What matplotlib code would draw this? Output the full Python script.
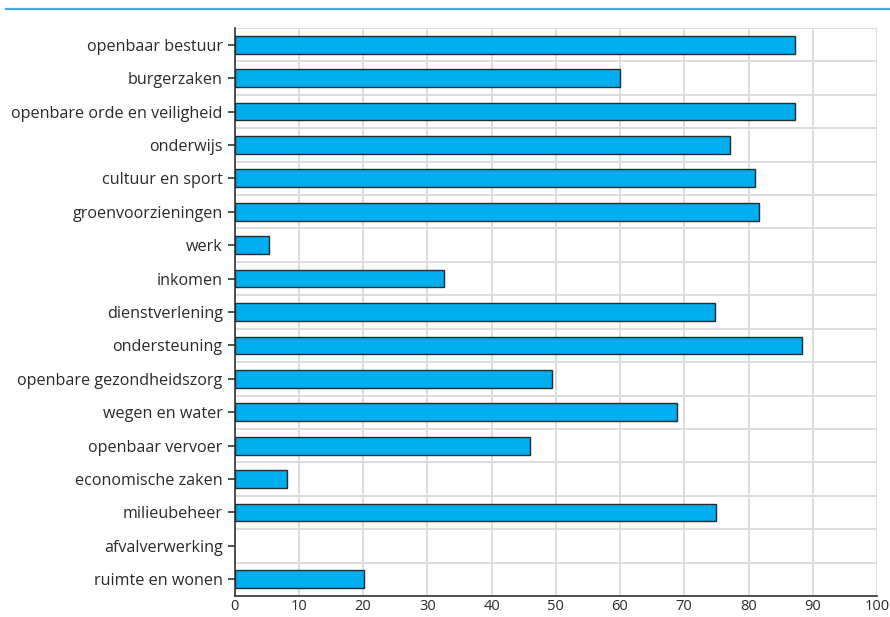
import numpy as np
import matplotlib.pyplot as plt
from matplotlib.lines import Line2D

# taken - aandeel per taakveld (%)
taken = ['openbaar bestuur', 'burgerzaken', 'openbare orde en veiligheid',
         'onderwijs', 'cultuur en sport', 'groenvoorzieningen', 'werk',
         'inkomen', 'dienstverlening', 'ondersteuning',
         'openbare gezondheidszorg', 'wegen en water', 'openbaar vervoer',
         'economische zaken', 'milieubeheer', 'afvalverwerking',
         'ruimte en wonen']
waarden = [87.2, 60.0, 87.3, 77.1, 81.0, 81.6, 5.4, 32.6, 74.8, 88.3,
           49.4, 68.8, 46.0, 8.1, 75.0, 0.0, 20.2]
x_ticks = [0, 10, 20, 30, 40, 50, 60, 70, 80, 90, 100]

plt.rcParams['font.family'] = ['Open Sans', 'DejaVu Sans']

fig = plt.figure(figsize=(8.9, 6.17), dpi=100)
ax = fig.add_axes([234.5 / 890, 1 - 596 / 617, (877 - 234.5) / 890, (596 - 28) / 617])

y = np.arange(len(taken))
lw = [1.0 if w > 0 else 0 for w in waarden]  # lege balk zonder rand
ax.barh(y, waarden, height=0.53, color='#00adef', edgecolor='#2b2b2b',
        linewidth=lw, zorder=3)

ax.set_xlim(0, 100)
ax.set_ylim(len(taken) - 0.5, -0.5)
ax.set_yticks(y)
ax.set_yticklabels(taken, fontsize=11.6, color='#2a2a2a')
ax.set_xticks(x_ticks)
ax.set_xticklabels([str(t) for t in x_ticks], fontsize=10.5, color='#2a2a2a')

# rasterlijnen: verticaal op de ticks, horizontaal tussen de categorieen
ax.set_yticks(np.arange(len(taken) + 1) - 0.5, minor=True)
ax.grid(axis='x', which='major', color='#dadada', linewidth=1.3, zorder=0)
ax.grid(axis='y', which='minor', color='#dadada', linewidth=1.3, zorder=0)
ax.tick_params(axis='y', which='minor', length=0)
ax.tick_params(axis='y', which='major', length=5, width=1.2, color='#333333', pad=3.5)
ax.tick_params(axis='x', length=0, pad=2)

for s in ['top', 'right']:
    ax.spines[s].set_visible(False)
ax.spines['left'].set_color('#333333')
ax.spines['bottom'].set_color('#333333')
ax.spines['left'].set_linewidth(1.2)
ax.spines['bottom'].set_linewidth(1.2)

# blauwe lijn bovenaan
fig.add_artist(Line2D([6 / 890, 1], [1 - 8.7 / 617, 1 - 8.7 / 617],
                      transform=fig.transFigure, color='#4aa8df', linewidth=1.6))

plt.savefig('out.png', dpi=100)
